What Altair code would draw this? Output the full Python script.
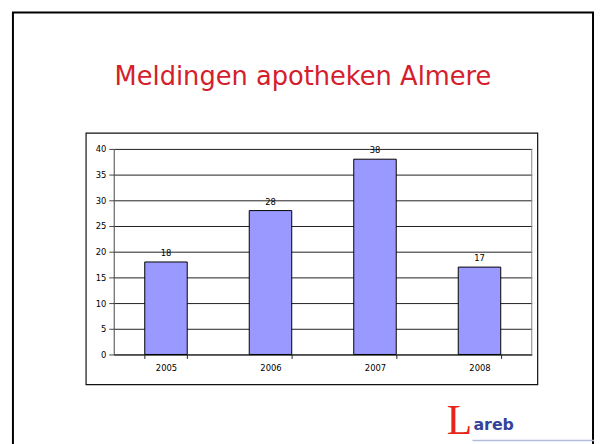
import altair as alt
import pandas as pd

# ---- data ----
years = ["2005", "2006", "2007", "2008"]
counts = [18, 28, 38, 17]
y_ticks = [0, 5, 10, 15, 20, 25, 30, 35, 40]
title_text = "Meldingen apotheken Almere"
logo_initial = "L"
logo_rest = "areb"

df = pd.DataFrame({"year": years, "count": counts})
one = pd.DataFrame({"k": [0]})

W, H = 423, 208
FONT = "DejaVu Sans"

x_scale = alt.Scale(domain=years, paddingInner=0.5934, paddingOuter=0.2967)
y_scale = alt.Scale(domain=[0, 40])

x_enc = alt.X(
    "year:N",
    scale=x_scale,
    axis=alt.Axis(
        title=None, labelAngle=0, tickBand="extent", tickSize=4,
        labelPadding=5, labelFont=FONT, labelFontSize=8.5, labelColor="black",
        domainColor="#222222", tickColor="#222222", grid=False,
    ),
)
y_enc = alt.Y(
    "count:Q",
    scale=y_scale,
    axis=alt.Axis(
        title=None, values=y_ticks, grid=True, gridColor="#1e1e1e", gridWidth=1,
        tickSize=5, labelPadding=3, labelFont=FONT, labelFontSize=8.5,
        labelColor="black", domainColor="#444444", tickColor="#444444",
    ),
)

# slide border (open at bottom)
slide = alt.Chart(one).mark_rect(fill="transparent", stroke="black", strokeWidth=2).encode(
    x=alt.value(-102), x2=alt.value(485), y=alt.value(-138), y2=alt.value(330)
)

# chart frame
frame = alt.Chart(one).mark_rect(fill="transparent", stroke="#111111", strokeWidth=1.2).encode(
    x=alt.value(-28), x2=alt.value(429), y=alt.value(-16), y2=alt.value(238.5)
)

title = alt.Chart(one).mark_text(
    text=title_text, font=FONT, fontSize=26, color="#D4202C",
    align="center", baseline="alphabetic",
).encode(x=alt.value(191.5), y=alt.value(-64.5))

right_edge = alt.Chart(one).mark_rule(color="#888888", strokeWidth=1).encode(
    x=alt.value(423), y=alt.value(0), y2=alt.value(H)
)

base = alt.Chart(df).encode(x=x_enc, y=y_enc)
bars = base.mark_bar(color="#9999FF", stroke="black", strokeWidth=1)
labels = base.mark_text(
    font=FONT, fontSize=8.5, color="black", dy=-6, baseline="alphabetic"
).encode(text="count:Q")

logo_b = alt.Chart(one).mark_text(
    text=logo_rest, font="DejaVu Sans", fontWeight="bold", fontSize=16, color="#34449A",
    align="left", baseline="alphabetic",
).encode(x=alt.value(364), y=alt.value(284))

logo_a = alt.Chart(one).mark_text(
    text=logo_initial, font="Liberation Serif", fontSize=42, color="#E8251B",
    align="left", baseline="alphabetic",
).encode(x=alt.value(337), y=alt.value(288))

logo_line = alt.Chart(one).mark_rule(color="#B4BCDC", strokeWidth=1.5).encode(
    x=alt.value(363), x2=alt.value(487), y=alt.value(295)
)

chart = alt.layer(
    slide, frame, title, bars, right_edge, labels, logo_line, logo_b, logo_a
).properties(
    width=W, height=H,
    autosize=alt.AutoSizeParams(type="none"),
    padding={"left": 107, "top": 140, "right": 63, "bottom": 88},
).configure_view(strokeWidth=0)

chart.save("out.html", embed_options={"renderer": "svg", "actions": False})
